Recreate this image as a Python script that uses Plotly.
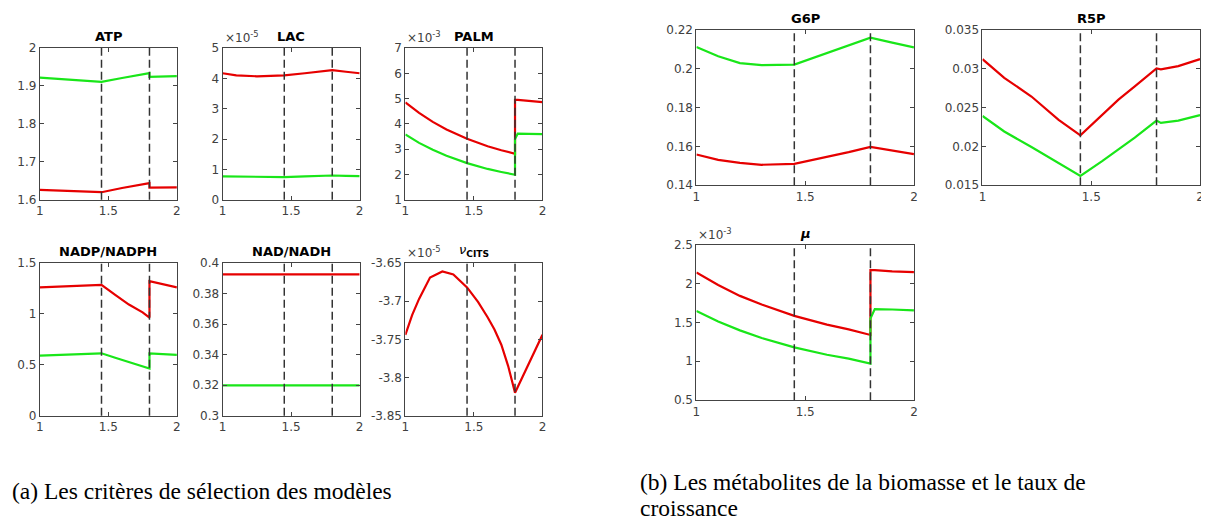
import plotly.graph_objects as go

# page has an 8px body margin, so the figure is drawn 8px in and down
OFF = 8
W, H = 1209 - OFF, 519 - OFF

# vertical dashed lines (switching times)
switch_times = [1.45, 1.8]

# ---------------- (a) selection criteria ----------------
atp_x = [1, 1.2, 1.45, 1.6, 1.8, 1.8, 2]
atp_red = [1.626, 1.623, 1.620, 1.631, 1.644, 1.632, 1.633]
atp_green = [1.922, 1.917, 1.911, 1.921, 1.934, 1.924, 1.926]

# LAC values in units of 1e-5
lac_x = [1, 1.1, 1.25, 1.45, 1.6, 1.8, 1.9, 2]
lac_red = [4.17, 4.10, 4.07, 4.10, 4.17, 4.27, 4.22, 4.17]
lac_green = [0.77, 0.76, 0.75, 0.75, 0.77, 0.80, 0.79, 0.78]

# PALM values in units of 1e-3
palm_x = [1, 1.1, 1.2, 1.3, 1.45, 1.6, 1.7, 1.8, 1.8, 1.82, 1.9, 2]
palm_red = [4.85, 4.44, 4.08, 3.78, 3.41, 3.12, 2.96, 2.82, 4.95, 4.95, 4.91, 4.86]
palm_green = [3.58, 3.25, 2.98, 2.74, 2.45, 2.22, 2.10, 1.99, 3.40, 3.62, 3.61, 3.60]

nadp_x = [1, 1.2, 1.45, 1.55, 1.65, 1.75, 1.8, 1.8, 1.9, 2]
nadp_red = [1.261, 1.272, 1.286, 1.187, 1.092, 1.015, 0.964, 1.321, 1.290, 1.261]
nadp_green = [0.590, 0.600, 0.613, 0.570, 0.530, 0.490, 0.463, 0.613, 0.605, 0.597]

nad_x = [1, 1.45, 1.8, 2]
nad_red = [0.3925, 0.3925, 0.3925, 0.3925]
nad_green = [0.3198, 0.3198, 0.3198, 0.3198]

# v_CITS values in units of 1e-5
cits_x = [1, 1.05, 1.1, 1.18, 1.27, 1.35, 1.45, 1.53, 1.6, 1.65, 1.7, 1.75, 1.8, 1.9, 2]
cits_red = [-3.744, -3.718, -3.697, -3.669, -3.661, -3.665, -3.682, -3.701,
            -3.721, -3.737, -3.757, -3.785, -3.820, -3.782, -3.744]

# ---------------- (b) biomass metabolites and growth rate ----------------
g6p_x = [1, 1.1, 1.2, 1.3, 1.45, 1.6, 1.7, 1.8, 1.9, 2]
g6p_red = [0.1558, 0.1530, 0.1515, 0.1505, 0.1510, 0.1545, 0.1570, 0.1597, 0.1578, 0.1560]
g6p_green = [0.2110, 0.2063, 0.2028, 0.2017, 0.2020, 0.2080, 0.2120, 0.2158, 0.2133, 0.2108]

r5p_x = [1, 1.1, 1.225, 1.35, 1.45, 1.55, 1.625, 1.7, 1.8, 1.82, 1.9, 2]
r5p_red = [0.0312, 0.0288, 0.0264, 0.0234, 0.0214, 0.0241, 0.0260, 0.0277, 0.0300, 0.0299, 0.0303, 0.0312]
r5p_green = [0.0239, 0.0219, 0.0199, 0.0178, 0.0162, 0.0181, 0.0196, 0.0211, 0.0233, 0.0230, 0.0233, 0.0240]

# growth rate mu in units of 1e-3
mu_x = [1, 1.1, 1.2, 1.3, 1.45, 1.6, 1.7, 1.8, 1.8, 1.82, 1.9, 2]
mu_red = [2.14, 1.98, 1.84, 1.73, 1.583, 1.47, 1.41, 1.338, 2.17, 2.17, 2.155, 2.145]
mu_green = [1.646, 1.511, 1.397, 1.299, 1.179, 1.084, 1.033, 0.971, 1.55, 1.67, 1.665, 1.654]

RED = '#e60000'
GREEN = '#19e619'
AXIS = '#444444'
TICKFONT = dict(family='DejaVu Sans', size=12, color='#404040')


def px(xp):
    return (xp - OFF) / W


def py(yp):
    return 1 - (yp - OFF) / H


panels = [
    dict(title='<b>ATP</b>', x=atp_x, series=[atp_red, atp_green], yr=[1.6, 2],
         yt=[1.6, 1.7, 1.8, 1.9, 2], ytx=['1.6', '1.7', '1.8', '1.9', '2'], exp=None,
         box=(36, 174, 42, 198)),
    dict(title='<b>LAC</b>', x=lac_x, series=[lac_red, lac_green], yr=[0, 5],
         yt=[0, 1, 2, 3, 4, 5], ytx=['0', '1', '2', '3', '4', '5'], exp='-5',
         box=(220, 358, 42, 198)),
    dict(title='<b>PALM</b>', x=palm_x, series=[palm_red, palm_green], yr=[1, 7],
         yt=[1, 2, 3, 4, 5, 6, 7], ytx=['1', '2', '3', '4', '5', '6', '7'], exp='-3',
         box=(404, 542, 42, 198)),
    dict(title='<b>NADP/NADPH</b>', x=nadp_x, series=[nadp_red, nadp_green], yr=[0, 1.5],
         yt=[0, 0.5, 1, 1.5], ytx=['0', '0.5', '1', '1.5'], exp=None,
         box=(36, 174, 263, 420)),
    dict(title='<b>NAD/NADH</b>', x=nad_x, series=[nad_red, nad_green], yr=[0.3, 0.4],
         yt=[0.3, 0.32, 0.34, 0.36, 0.38, 0.4], ytx=['0.3', '0.32', '0.34', '0.36', '0.38', '0.4'],
         exp=None, box=(220, 358, 263, 420)),
    dict(title='<i>ν</i><sub><b>CITS</b></sub>', x=cits_x, series=[cits_red], yr=[-3.85, -3.65],
         yt=[-3.85, -3.8, -3.75, -3.7, -3.65], ytx=['-3.85', '-3.8', '-3.75', '-3.7', '-3.65'],
         exp='-5', box=(404, 542, 263, 420)),
    dict(title='<b>G6P</b>', x=g6p_x, series=[g6p_red, g6p_green], yr=[0.14, 0.22],
         yt=[0.14, 0.16, 0.18, 0.2, 0.22], ytx=['0.14', '0.16', '0.18', '0.2', '0.22'], exp=None,
         box=(697, 916, 23, 183)),
    dict(title='<b>R5P</b>', x=r5p_x, series=[r5p_red, r5p_green], yr=[0.015, 0.035],
         yt=[0.015, 0.02, 0.025, 0.03, 0.035], ytx=['0.015', '0.02', '0.025', '0.03', '0.035'],
         exp=None, box=(985, 1204, 23, 183)),
    dict(title='<b><i>μ</i></b>', x=mu_x, series=[mu_red, mu_green], yr=[0.5, 2.5],
         yt=[0.5, 1, 1.5, 2, 2.5], ytx=['0.5', '1', '1.5', '2', '2.5'], exp='-3',
         box=(697, 916, 244, 404)),
]

fig = go.Figure()
layout = {}
annotations = []
shapes = []

for i, p in enumerate(panels, start=1):
    sfx = '' if i == 1 else str(i)
    xa, ya = 'x' + sfx, 'y' + sfx
    l, r, t, b = p['box']
    for s, col in zip(p['series'], [RED, GREEN]):
        fig.add_trace(go.Scatter(x=p['x'], y=s, mode='lines', xaxis=xa, yaxis=ya,
                                 line=dict(color=col, width=2.2), showlegend=False,
                                 hoverinfo='skip'))
    common = dict(showline=True, linecolor=AXIS, linewidth=1, mirror='ticks',
                  ticks='inside', ticklen=4, tickcolor=AXIS, showgrid=False,
                  zeroline=False, tickfont=TICKFONT)
    layout['xaxis' + sfx] = dict(domain=[px(l), px(r)], anchor=ya, range=[1, 2],
                                 tickvals=[1, 1.5, 2], ticktext=['1', '1.5', '2'], **common)
    layout['yaxis' + sfx] = dict(domain=[py(b), py(t)], anchor=xa, range=p['yr'],
                                 tickvals=p['yt'], ticktext=p['ytx'], **common)
    for st in switch_times:
        shapes.append(dict(type='line', xref=xa, yref=ya + ' domain', x0=st, x1=st, y0=0, y1=1,
                           line=dict(color='#333333', width=1.5, dash='8px,4px')))
    annotations.append(dict(text=p['title'], xref='paper', yref='paper',
                            x=(px(l) + px(r)) / 2, y=py(t - 2), xanchor='center',
                            yanchor='bottom', showarrow=False,
                            font=dict(family='DejaVu Sans', size=13, color='black')))
    if p['exp']:
        annotations.append(dict(text='×10<sup>' + p['exp'] + '</sup>', xref='paper',
                                yref='paper', x=px(l), y=py(t - 1), xanchor='left',
                                yanchor='bottom', showarrow=False,
                                font=dict(family='DejaVu Sans', size=12, color='#404040')))

CAPFONT = dict(family='Liberation Serif', size=23.5, color='black')
annotations.append(dict(text='(a) Les critères de sélection des modèles', xref='paper',
                        yref='paper', x=px(6), y=py(497), xanchor='left', yanchor='middle',
                        showarrow=False, font=CAPFONT))
annotations.append(dict(text='(b) Les métabolites de la biomasse et le taux de',
                        xref='paper', yref='paper', x=px(638), y=py(488), xanchor='left',
                        yanchor='middle', showarrow=False, font=CAPFONT))
annotations.append(dict(text='croissance',
                        xref='paper', yref='paper', x=px(638), y=py(515), xanchor='left',
                        yanchor='middle', showarrow=False, font=CAPFONT))

fig.update_layout(width=W, height=H, margin=dict(l=0, r=0, t=0, b=0),
                  paper_bgcolor='white', plot_bgcolor='white',
                  annotations=annotations, shapes=shapes, **layout)

fig.write_html('out.html')
